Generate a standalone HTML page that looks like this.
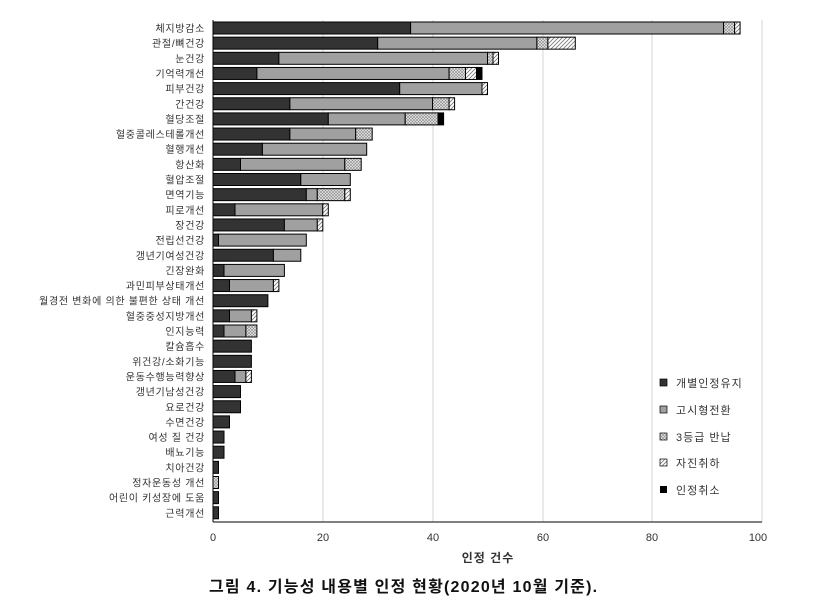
<!DOCTYPE html>
<html><head><meta charset="utf-8"><style>
body{margin:0;background:#fff;}
svg{display:block;font-family:"Liberation Sans","Noto Sans CJK KR",sans-serif;}
</style></head><body>
<svg width="837" height="613" xmlns="http://www.w3.org/2000/svg">
<defs>
<pattern id="dot" width="3" height="3" patternUnits="userSpaceOnUse"><rect width="3" height="3" fill="#e8e8e8"/><path d="M0,0L3,3M3,0L0,3" stroke="#888" stroke-width="0.6"/></pattern>
<pattern id="hat" width="4" height="4" patternUnits="userSpaceOnUse"><rect width="4" height="4" fill="#fff"/><path d="M0,4L4,0M-1,1L1,-1M3,5L5,3" stroke="#777" stroke-width="0.8"/></pattern>
</defs>
<g stroke="#d4d4d4" stroke-width="1">
<line x1="323" y1="20" x2="323" y2="522"/><line x1="433" y1="20" x2="433" y2="522"/><line x1="543" y1="20" x2="543" y2="522"/><line x1="652" y1="20" x2="652" y2="522"/><line x1="762" y1="20" x2="762" y2="522"/>
</g>
<g stroke="#000" stroke-width="1">
<g fill="#333">
<rect x="213" y="22" width="197.6" height="12"/>
<rect x="213" y="37.15" width="164.7" height="12"/>
<rect x="213" y="52.3" width="65.9" height="12"/>
<rect x="213" y="67.45" width="43.9" height="12"/>
<rect x="213" y="82.6" width="186.7" height="12"/>
<rect x="213" y="97.75" width="76.9" height="12"/>
<rect x="213" y="112.9" width="115.3" height="12"/>
<rect x="213" y="128.05" width="76.9" height="12"/>
<rect x="213" y="143.2" width="49.4" height="12"/>
<rect x="213" y="158.35" width="27.5" height="12"/>
<rect x="213" y="173.5" width="87.8" height="12"/>
<rect x="213" y="188.65" width="93.3" height="12"/>
<rect x="213" y="203.8" width="22" height="12"/>
<rect x="213" y="218.95" width="71.4" height="12"/>
<rect x="213" y="234.1" width="5.5" height="12"/>
<rect x="213" y="249.25" width="60.4" height="12"/>
<rect x="213" y="264.4" width="11" height="12"/>
<rect x="213" y="279.55" width="16.5" height="12"/>
<rect x="213" y="294.7" width="54.9" height="12"/>
<rect x="213" y="309.85" width="16.5" height="12"/>
<rect x="213" y="325" width="11" height="12"/>
<rect x="213" y="340.15" width="38.4" height="12"/>
<rect x="213" y="355.3" width="38.4" height="12"/>
<rect x="213" y="370.45" width="22" height="12"/>
<rect x="213" y="385.6" width="27.5" height="12"/>
<rect x="213" y="400.75" width="27.5" height="12"/>
<rect x="213" y="415.9" width="16.5" height="12"/>
<rect x="213" y="431.05" width="11" height="12"/>
<rect x="213" y="446.2" width="11" height="12"/>
<rect x="213" y="461.35" width="5.5" height="12"/>
<rect x="213" y="491.65" width="5.5" height="12"/>
<rect x="213" y="506.8" width="5.5" height="12"/>
</g>
<g fill="#a0a0a0">
<rect x="410.6" y="22" width="313" height="12"/>
<rect x="377.7" y="37.15" width="159.2" height="12"/>
<rect x="278.9" y="52.3" width="208.6" height="12"/>
<rect x="256.9" y="67.45" width="192.2" height="12"/>
<rect x="399.7" y="82.6" width="82.3" height="12"/>
<rect x="289.9" y="97.75" width="142.7" height="12"/>
<rect x="328.3" y="112.9" width="76.9" height="12"/>
<rect x="289.9" y="128.05" width="65.8" height="12"/>
<rect x="262.4" y="143.2" width="104.3" height="12"/>
<rect x="240.5" y="158.35" width="104.3" height="12"/>
<rect x="300.8" y="173.5" width="49.5" height="12"/>
<rect x="306.3" y="188.65" width="11" height="12"/>
<rect x="235" y="203.8" width="87.8" height="12"/>
<rect x="284.4" y="218.95" width="32.9" height="12"/>
<rect x="218.5" y="234.1" width="87.8" height="12"/>
<rect x="273.4" y="249.25" width="27.4" height="12"/>
<rect x="224" y="264.4" width="60.4" height="12"/>
<rect x="229.5" y="279.55" width="43.9" height="12"/>
<rect x="229.5" y="309.85" width="21.9" height="12"/>
<rect x="224" y="325" width="21.9" height="12"/>
<rect x="235" y="370.45" width="10.9" height="12"/>
</g>
<g fill="url(#dot)">
<rect x="723.6" y="22" width="11" height="12"/>
<rect x="536.9" y="37.15" width="11" height="12"/>
<rect x="487.5" y="52.3" width="5.5" height="12"/>
<rect x="449.1" y="67.45" width="16.4" height="12"/>
<rect x="432.6" y="97.75" width="16.5" height="12"/>
<rect x="405.2" y="112.9" width="32.9" height="12"/>
<rect x="355.7" y="128.05" width="16.5" height="12"/>
<rect x="344.8" y="158.35" width="16.4" height="12"/>
<rect x="317.3" y="188.65" width="27.5" height="12"/>
<rect x="245.9" y="325" width="11" height="12"/>
<rect x="213" y="476.5" width="5.5" height="12"/>
</g>
<g fill="url(#hat)">
<rect x="734.6" y="22" width="5.5" height="12"/>
<rect x="547.9" y="37.15" width="27.4" height="12"/>
<rect x="493" y="52.3" width="5.5" height="12"/>
<rect x="465.5" y="67.45" width="11" height="12"/>
<rect x="482" y="82.6" width="5.5" height="12"/>
<rect x="449.1" y="97.75" width="5.5" height="12"/>
<rect x="344.8" y="188.65" width="5.5" height="12"/>
<rect x="322.8" y="203.8" width="5.5" height="12"/>
<rect x="317.3" y="218.95" width="5.5" height="12"/>
<rect x="273.4" y="279.55" width="5.5" height="12"/>
<rect x="251.4" y="309.85" width="5.5" height="12"/>
<rect x="245.9" y="370.45" width="5.5" height="12"/>
</g>
<g fill="#000">
<rect x="476.5" y="67.45" width="5.5" height="12"/>
<rect x="438.1" y="112.9" width="5.5" height="12"/>
</g>
</g>
<line x1="213" y1="20" x2="213" y2="522" stroke="#000"/>
<line x1="213" y1="522" x2="762" y2="522" stroke="#000"/>
<g font-size="11" fill="#333" text-anchor="middle">
<text x="213" y="541">0</text><text x="323" y="541">20</text><text x="433" y="541">40</text><text x="543" y="541">60</text><text x="652" y="541">80</text><text x="758" y="541">100</text>
</g>
<text x="488" y="562" font-size="12" font-weight="bold" fill="#333" text-anchor="middle" letter-spacing="1">인정 건수</text>
<text x="209" y="592" font-size="16" font-weight="bold" fill="#111" letter-spacing="1.2">그림 4. 기능성 내용별 인정 현황(2020년 10월 기준).</text>
<g font-size="11" fill="#333" letter-spacing="1">
<rect x="660" y="379" width="7" height="7" fill="#333" stroke="#000" stroke-width="0.7"/><text x="676" y="387">개별인정유지</text>
<rect x="660" y="406" width="7" height="7" fill="#a0a0a0" stroke="#000" stroke-width="0.7"/><text x="676" y="414">고시형전환</text>
<rect x="660" y="433" width="7" height="7" fill="url(#dot)" stroke="#000" stroke-width="0.7"/><text x="676" y="441">3등급 반납</text>
<rect x="660" y="459" width="7" height="7" fill="url(#hat)" stroke="#000" stroke-width="0.7"/><text x="676" y="467">자진취하</text>
<rect x="660" y="486" width="7" height="7" fill="#000"/><text x="676" y="494">인정취소</text>
</g>
<g font-size="10" fill="#333" text-anchor="end" letter-spacing="0.7">
<text x="205" y="32">체지방감소</text>
<text x="205" y="47.15">관절/뼈건강</text>
<text x="205" y="62.3">눈건강</text>
<text x="205" y="77.45">기억력개선</text>
<text x="205" y="92.6">피부건강</text>
<text x="205" y="107.75">간건강</text>
<text x="205" y="122.9">혈당조절</text>
<text x="205" y="138.05">혈중콜레스테롤개선</text>
<text x="205" y="153.2">혈행개선</text>
<text x="205" y="168.35">항산화</text>
<text x="205" y="183.5">혈압조절</text>
<text x="205" y="198.65">면역기능</text>
<text x="205" y="213.8">피로개선</text>
<text x="205" y="228.95">장건강</text>
<text x="205" y="244.1">전립선건강</text>
<text x="205" y="259.25">갱년기여성건강</text>
<text x="205" y="274.4">긴장완화</text>
<text x="205" y="289.55">과민피부상태개선</text>
<text x="205" y="304.7">월경전 변화에 의한 불편한 상태 개선</text>
<text x="205" y="319.85">혈중중성지방개선</text>
<text x="205" y="335">인지능력</text>
<text x="205" y="350.15">칼슘흡수</text>
<text x="205" y="365.3">위건강/소화기능</text>
<text x="205" y="380.45">운동수행능력향상</text>
<text x="205" y="395.6">갱년기남성건강</text>
<text x="205" y="410.75">요로건강</text>
<text x="205" y="425.9">수면건강</text>
<text x="205" y="441.05">여성 질 건강</text>
<text x="205" y="456.2">배뇨기능</text>
<text x="205" y="471.35">치아건강</text>
<text x="205" y="486.5">정자운동성 개선</text>
<text x="205" y="501.65">어린이 키성장에 도움</text>
<text x="205" y="516.8">근력개선</text>
</g>
</svg>
</body></html>
